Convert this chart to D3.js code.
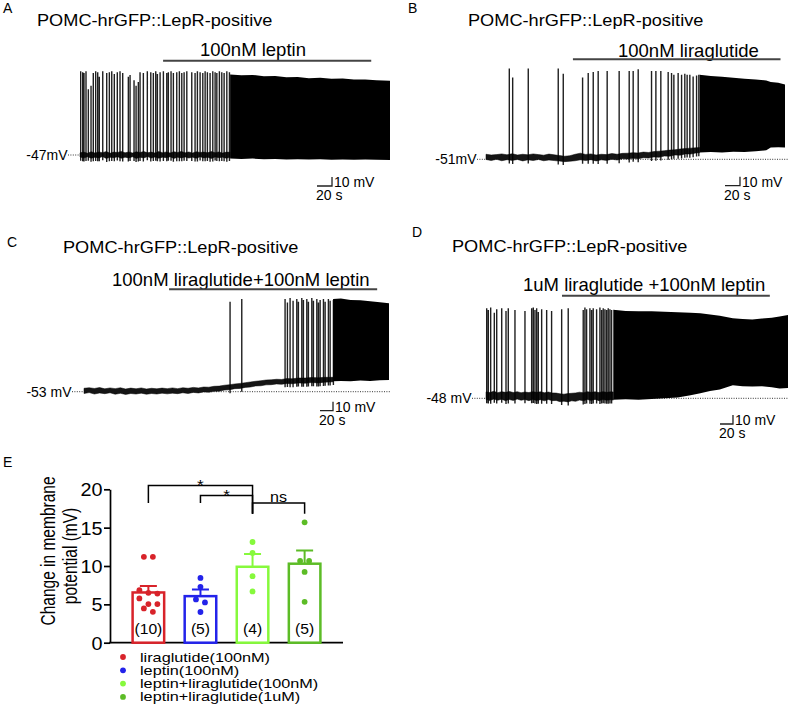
<!DOCTYPE html>
<meta charset="utf-8">
<style>
    body {
        margin: 0;
        background: #fff;
    }

    svg {
        font-family: "Liberation Sans", Arial, sans-serif;
    }

    .axis path,
    .axis line {
        fill: none;
        stroke: black;
        stroke-width: 1.7;
    }
</style>
<body>
<script src="https://d3js.org/d3.v7.min.js"></script>
<script>
    // ---- current-clamp traces ----
    // spikes: [time (s), peak (mV)]; baseline band: [time, low mV, high mV];
    // dense firing (solid black in the figure): [time, low mV, high mV]
    const panelLetters = ["A", "B", "C", "D"];
    const cellTitle = "POMC-hrGFP::LepR-positive";
    const drugLabels = ["100nM leptin", "100nM liraglutide", "100nM liraglutide+100nM leptin", "1uM liraglutide +100nM leptin"];
    const drugOn = [110.7, 116, 130.8, 117];
    const drugOff = [388, 393, 450.8, 437];
    const durations = [413, 399, 469, 465];
    const restMV = [-47, -51, -53, -48];
    const restLabels = ["-47mV", "-51mV", "-53 mV", "-48 mV"];
    const scaleBarSec = 20;
    const scaleBarMV = 10;

    const spikesA = [[0.9,46],[3.6,45],[5.3,44],[8,46],[11.1,26],[14.7,30],[17.7,44],[20.9,46],[23.6,45],[25.7,40],
        [30.3,46],[35.6,44],[39.1,45],[42.3,46],[45.7,43],[49.7,45],[53.3,46],[56.9,44],[64.4,40],[66.7,42],
        [72,36],[74.7,30],[77.7,34],[80,45],[84.4,44],[89.7,46],[94.3,45],[97.7,44],[100.9,46],[103.1,43],
        [106.7,45],[111.1,46],[115.6,44],[117.7,45],[121.3,46],[124.4,44],[128.9,45],[132.4,46],[135.6,44],[138.7,45],
        [142.3,46],[148.9,45],[153.3,44],[156.4,46],[160,45],[163.6,44],[166.7,46],[169.7,45],[173.3,44],[176.9,46],
        [180,45],[182.3,44],[185.7,46],[188.9,45],[192,44],[195.6,46],[199.1,45]];
    const baseA = [[0,-49.2,-44.6],[5,-50.4,-43.8],[10,-49,-45],[15,-50.6,-43.4],[20,-49.4,-44.8],[25,-50.2,-43.6],
        [30,-48.8,-44.4],[35,-50.8,-43.2],[40,-49.6,-45],[45,-50,-43.8],[50,-49,-44.2],[55,-50.6,-43],[60,-49.4,-44.6],
        [65,-50.2,-43.6],[70,-49,-44.8],[75,-50.8,-43.4],[80,-49.6,-44.2],[85,-50.2,-43.2],[90,-48.8,-44.6],
        [95,-50.4,-43.8],[100,-49.2,-44.8],[105,-50.6,-43.2],[110,-49.4,-44.4],[115,-50,-43.6],[120,-49,-44.8],
        [125,-50.8,-43.4],[130,-49.6,-44.2],[135,-50.2,-43],[140,-49.2,-44.6],[145,-50.4,-43.6],[150,-49.4,-44.8],
        [155,-50.6,-43.4],[160,-49,-44.2],[165,-50.2,-43.8],[170,-49.6,-44.6],[175,-50.8,-43.2],[180,-49.2,-44.4],
        [185,-50,-43.6],[190,-49.4,-44.8],[195,-50.6,-43.8],[200,-49.6,-44]];
    const denseA = [[200,-51,42.5],[215,-51.5,41.5],[230,-51,42],[245,-51.8,40.6],[260,-51.5,40.8],[275,-52,39.5],
        [290,-51.6,39.8],[305,-52,38.4],[320,-51.8,38.8],[335,-52.2,37.6],[350,-52,37.9],[365,-52.4,36.8],
        [380,-52.1,37],[395,-52.4,36],[413,-52.5,35.6]];

    const spikesB = [[31.1,50],[35.6,40],[56.4,50],[96.4,50],[103.1,44],[128.9,40],[136.4,45],[143.1,46],[149.7,47],
        [161.7,47],[177.7,47],[191.1,47],[196.4,47],[203.1,49],[220.9,47],[226.7,47],[233.3,47],[243.1,46],
        [247.6,45],[250.7,43],[256.4,45],[261,43],[265.3,44],[268.4,43],[272,43],[276.4,41],[281,42],[284,43]];
    const baseB = [[0,-51.2,-45.4],[7,-52.4,-46.2],[14,-51,-45.8],[21,-52.6,-45],[28,-51.4,-46],[35,-52.2,-44.8],
        [42,-51.2,-46.2],[49,-52.8,-45.4],[56,-51.6,-46],[63,-52.4,-45],[70,-51.2,-45.8],[77,-52.6,-46.4],
        [84,-51.8,-45.2],[91,-52.4,-46],[98,-53,-46.8],[105,-53.6,-47.6],[112,-53.2,-47],[119,-52.6,-45.4],
        [126,-51.6,-44.2],[133,-52.4,-45.6],[140,-51.4,-45],[147,-52.8,-46.2],[154,-51.6,-45.4],[161,-52.2,-45.8],
        [168,-51,-44.6],[175,-51.8,-45.4],[182,-50.4,-44.4],[189,-50.8,-44.2],[196,-49.8,-43.6],[203,-50.4,-44],
        [210,-49.2,-43],[217,-49.6,-43.4],[224,-48.4,-42.4],[231,-48.8,-42],[238,-47.4,-41.4],[245,-47.6,-40.8],
        [252,-46.2,-40.4],[259,-46.4,-39.6],[266,-45,-39],[273,-45.2,-38.6],[280,-44,-38.2],[285,-43.6,-38]];
    const denseB = [[285,-43.5,43],[300,-43,41.5],[315,-43.4,40.8],[330,-42.6,39.5],[345,-43,38.6],[360,-42,37.8],
        [374,-41,36.5],[380,-38,35],[390,-37.5,34],[399,-38,32]];

    const spikesC = [[224.6,47],[242.6,50],[309.2,50],[312.8,46],[316.9,51],[321.5,48],[327.2,50],[329.7,47],
        [334.9,51],[337.4,49],[342.6,50],[345.1,47],[350.3,51],[352.8,48],[358,50],[360.5,46],[363.1,49],
        [368.2,50],[370.8,47],[375.8,50],[378.5,48],[383.5,49]];
    const baseC = [[0,-55,-49.2],[8,-54,-48.6],[16,-55.6,-49.4],[24,-54.4,-48.4],[32,-55.2,-49.8],[40,-54.2,-48.8],
        [48,-55.8,-49.6],[56,-54.8,-48.6],[64,-56,-50],[72,-55,-49],[80,-55.6,-49.8],[88,-54.6,-48.8],[96,-55.8,-50],
        [104,-55,-49.2],[112,-55.6,-49.8],[120,-54.6,-49],[128,-55.4,-49.6],[136,-54.6,-48.8],[144,-55.2,-49.6],
        [152,-54.2,-48.6],[160,-55,-49.2],[168,-53.8,-48.2],[176,-54.4,-48.8],[184,-53.2,-47.8],[192,-53.6,-48],
        [200,-52.6,-47],[208,-52.4,-46.8],[216,-51.2,-45.8],[224,-50.8,-45.2],[232,-49.6,-44.4],[240,-49.4,-43.8],
        [248,-48.2,-43],[256,-47.8,-42.2],[264,-46.6,-41.4],[272,-46.4,-40.8],[280,-45.4,-40],[288,-45.2,-39.8],
        [296,-44.4,-39.2],[304,-44.8,-39.4],[312,-43.8,-38.4],[320,-44.2,-38.6],[330,-43.2,-37.8],[340,-43.6,-37.8],
        [350,-42.8,-37.2],[360,-43.2,-37.6],[370,-42.4,-37],[383,-42,-37]];
    const denseC = [[383,-41.5,50],[395,-41,50.5],[410,-41.5,49],[425,-40.6,48.5],[440,-41,47.5],
        [455,-40.2,46.5],[469,-40,45.2]];

    const spikesD = [[1.1,52],[3.5,50],[7.2,53],[12.8,47],[16.5,51],[24.2,52],[30.8,49],[34.3,52],[44.6,50],[60,49],
        [70.3,52],[72.8,53],[75.4,50],[78,52],[80.5,48],[85.7,51],[93.4,50],[101,49],[116.5,51],[126.6,52],
        [149.7,50],[152.3,53],[154.9,51],[160,52],[162.6,50],[165.1,52],[170.3,51],[175.4,53],[178,50],
        [180.5,52],[183.1,51],[185.7,50],[188.2,52],[190.8,51],[193.4,50]];
    const baseD = [[0,-49.2,-40.8],[6,-50.4,-41.6],[12,-48.8,-40.2],[18,-50.2,-41.8],[24,-49,-40.6],[30,-50.6,-41.4],
        [36,-49.4,-40.4],[42,-50.4,-41.6],[48,-48.8,-40.6],[54,-50.2,-41.8],[60,-49.4,-41],[66,-50.6,-41.6],
        [72,-49.2,-40.6],[78,-50.4,-41.4],[84,-49.6,-40.8],[90,-50.8,-41.8],[96,-49.4,-41],[102,-50.6,-42],
        [108,-50.4,-42.2],[114,-51.8,-43],[120,-51.2,-43.4],[126,-52,-42.8],[132,-50.8,-42.4],[138,-51.4,-42],
        [144,-50,-41.2],[150,-50.8,-41.8],[156,-49.4,-40.6],[162,-50.4,-41.4],[168,-49.2,-40.8],[174,-50.6,-41.6],
        [180,-49.4,-40.6],[186,-50.2,-41.4],[192,-49.6,-40.8],[196,-50,-41]];
    const denseD = [[196,-49.5,50.5],[215,-49,49],[235,-49.5,48.6],[255,-48.8,48.8],[275,-48,48.2],[295,-47,47.6],
        [315,-44.5,47],[330,-42.4,46.4],[345,-40,45],[360,-38.2,43.6],[380,-33.5,41],[395,-34.5,40.2],
        [410,-35,39.6],[425,-34.6,40.6],[440,-35.6,41.6],[452,-37,42.8],[465,-36.6,44.6]];

    // ---- panel E: change in membrane potential ----
    const groups = ["liraglutide(100nM)", "leptin(100nM)", "leptin+liraglutide(100nM)", "leptin+liraglutide(1uM)"];
    const groupColors = ["#d8232a", "#2323ea", "#86f93c", "#5cbc26"];
    const means = [6.55, 6.07, 9.9, 10.3];
    const sems = [0.85, 0.87, 1.67, 1.73];
    const nLabels = ["(10)", "(5)", "(4)", "(5)"];
    const pointsLira = [11.2, 11.2, 6.85, 6.5, 6.4, 5.77, 5.03, 5.03, 4.47, 4.03];
    const pointsLeptin = [8.45, 7.28, 5.64, 5.25, 4.0];
    const pointsCombo100 = [13.13, 11.7, 8.67, 6.68];
    const pointsCombo1u = [15.7, 10.66, 10.66, 9.23, 5.33];
    const yTicks = [0, 5, 10, 15, 20];
    // [group a, group b, label, top, end of a-leg, end of b-leg]
    const comparisons = [[0, 2, "*", 20.5, 18.2, 16.8], [1, 2, "*", 19.2, 18.2, 16.8], [2, 3, "ns", 18.2, 16.8, 16.8]];

    const svg = d3.select("body").append("svg")
        .attr("width", 789)
        .attr("height", 721);

    // the source figure's lettering is a little wider than Arial
    function widen(sel, x, y, sx, extra) {
        return sel.attr("transform", "translate(" + x + "," + y + ") scale(" + sx + ",1)" + (extra || ""));
    }

    // layout of the four trace panels (pixels)
    const panels = [
        {lx: 3, ly: 13, tx: 37, ty: 26, dx: 200, dy: 56, barY: 60.7, x0: 80, x1: 390, yRest: 155, dot0: 68, dot1: 390, sbX: 317, sbY: 186,
            spikes: spikesA, base: baseA, dense: denseA},
        {lx: 408, ly: 13, tx: 468, ty: 26, dx: 618, dy: 56.5, barY: 59.3, x0: 486, x1: 785, yRest: 159.3, dot0: 477, dot1: 788, sbX: 725, sbY: 185.7,
            spikes: spikesB, base: baseB, dense: denseB},
        {lx: 7, ly: 246.7, tx: 63, ty: 253.3, dx: 112, dy: 286, barY: 289.3, x0: 84, x1: 389, yRest: 391.7, dot0: 72, dot1: 390, sbX: 320, sbY: 410.7,
            spikes: spikesC, base: baseC, dense: denseC},
        {lx: 412, ly: 236.7, tx: 452, ty: 252.3, dx: 523, dy: 291, barY: 295.7, x0: 486, x1: 788, yRest: 398.3, dot0: 472, dot1: 788, sbX: 720, sbY: 424,
            spikes: spikesD, base: baseD, dense: denseD}
    ];

    function bandLow(band, t) {
        const i = d3.bisector(d => d[0]).left(band, t);
        if (i <= 0) return band[0][1];
        if (i >= band.length) return band[band.length - 1][1];
        const a = band[i - 1], b = band[i];
        return a[1] + (t - a[0]) / (b[0] - a[0]) * (b[1] - a[1]);
    }

    panels.forEach((p, i) => {
        const g = svg.append("g").attr("class", "trace-panel");

        const x = d3.scaleLinear().domain([0, durations[i]]).range([p.x0, p.x1]);
        const y = d3.scaleLinear().domain([restMV[i], restMV[i] + 100]).range([p.yRest, p.yRest - 90]);

        g.append("text")
            .attr("x", p.lx).attr("y", p.ly)
            .attr("font-size", 14)
            .text(panelLetters[i]);

        widen(g.append("text"), p.tx, p.ty, 1.07)
            .attr("font-size", 17)
            .text(cellTitle);

        g.append("text")
            .attr("x", p.dx).attr("y", p.dy)
            .attr("font-size", 18.5)
            .text(drugLabels[i]);

        g.append("line")
            .attr("x1", x(drugOn[i])).attr("x2", x(drugOff[i]))
            .attr("y1", p.barY).attr("y2", p.barY)
            .attr("stroke", "#444").attr("stroke-width", 2);

        // resting potential reference
        g.append("line")
            .attr("x1", p.dot0).attr("x2", p.dot1)
            .attr("y1", y(restMV[i])).attr("y2", y(restMV[i]))
            .attr("stroke", "#333").attr("stroke-width", 1)
            .attr("stroke-dasharray", "1,1.4");

        g.append("text")
            .attr("x", p.dot0 - 0.5).attr("y", y(restMV[i]) + 5)
            .attr("text-anchor", "end")
            .attr("font-size", 14)
            .text(restLabels[i]);

        // noisy baseline
        g.append("path")
            .datum(p.base)
            .attr("d", d3.area().x(d => x(d[0])).y0(d => y(d[1])).y1(d => y(d[2])))
            .attr("fill", "#151515")
            .attr("stroke", "#000")
            .attr("stroke-width", 0.5);

        // single action potentials
        g.append("path")
            .attr("d", p.spikes.map(d => {
                const lo = bandLow(p.base.concat(p.dense), d[0]) - 4;
                return "M" + x(d[0]) + "," + y(lo) + "L" + x(d[0]) + "," + y(d[1]);
            }).join(""))
            .attr("stroke", "#000")
            .attr("stroke-width", 1.4)
            .attr("stroke-opacity", 0.88)
            .attr("fill", "none");

        // high-frequency firing
        g.append("path")
            .datum(p.dense)
            .attr("d", d3.area().x(d => x(d[0])).y0(d => y(d[1])).y1(d => y(d[2])))
            .attr("fill", "#000");

        // scale bar
        const sbW = x(scaleBarSec) - x(0);
        const sbH = y(restMV[i]) - y(restMV[i] + scaleBarMV);
        g.append("path")
            .attr("d", "M" + p.sbX + "," + p.sbY + "h" + sbW + "v" + (-sbH))
            .attr("fill", "none")
            .attr("stroke", "#222")
            .attr("stroke-width", 1.3);
        g.append("text")
            .attr("x", p.sbX + sbW + 2).attr("y", p.sbY + 1)
            .attr("font-size", 14)
            .text(scaleBarMV + " mV");
        g.append("text")
            .attr("x", p.sbX - 1).attr("y", p.sbY + 14)
            .attr("font-size", 14)
            .text(scaleBarSec + " s");
    });

    // ---------------- panel E ----------------
    const eg = svg.append("g").attr("class", "bars");
    const yE = d3.scaleLinear().domain([0, 20]).range([642.7, 489.3]);
    const xE = d3.scaleBand().domain(d3.range(groups.length)).range([110, 343])
        .paddingInner(0.346).paddingOuter(0.41);
    const cx = i => xE(i) + xE.bandwidth() / 2;

    eg.append("text").attr("x", 3).attr("y", 467).attr("font-size", 14).text("E");

    eg.append("g")
        .attr("class", "axis")
        .attr("transform", "translate(110,0)")
        .call(d3.axisLeft(yE).tickValues(yTicks).tickSize(6).tickSizeOuter(0))
        .attr("font-family", null)
        .attr("font-size", null)
        .call(a => a.selectAll("text")
            .attr("x", null)
            .attr("dy", "0.36em")
            .attr("transform", "translate(-7.5,0) scale(1.1,1)")
            .attr("font-size", 18)
            .attr("fill", "#000"));

    eg.append("line")
        .attr("x1", 109.2).attr("x2", 343)
        .attr("y1", yE(0)).attr("y2", yE(0))
        .attr("stroke", "#000").attr("stroke-width", 1.7);

    const ylab = eg.append("g")
        .attr("font-size", 15.5)
        .attr("text-anchor", "middle");
    widen(ylab.append("text"), 54.5, 551, 1.36, " rotate(-90)").text("Change in membrane");
    widen(ylab.append("text"), 77, 556, 1.36, " rotate(-90)").text("potential (mV)");

    eg.selectAll(".bar")
        .data(means)
        .enter().append("rect")
        .attr("class", "bar")
        .attr("x", (d, i) => xE(i) + 1.25)
        .attr("width", xE.bandwidth() - 2.5)
        .attr("y", d => yE(d))
        .attr("height", d => yE(0) - yE(d))
        .attr("fill", "#fff")
        .attr("stroke", (d, i) => groupColors[i])
        .attr("stroke-width", 2.5);

    eg.selectAll(".err")
        .data(means)
        .enter().append("path")
        .attr("class", "err")
        .attr("d", (d, i) => "M" + cx(i) + "," + yE(d) + "V" + yE(d + sems[i]) +
            "M" + (cx(i) - 8.5) + "," + yE(d + sems[i]) + "H" + (cx(i) + 8.5))
        .attr("fill", "none")
        .attr("stroke", (d, i) => groupColors[i])
        .attr("stroke-width", 2);

    // scatter points, spread sideways when they share a row
    const r = 2.9;
    [pointsLira, pointsLeptin, pointsCombo100, pointsCombo1u].forEach((pts, gi) => {
        const sorted = pts.slice().sort((a, b) => b - a);
        const rows = [];
        sorted.forEach(v => {
            const last = rows[rows.length - 1];
            if (last && yE(v) - yE(last[0]) < 2 * r) last.push(v);
            else rows.push([v]);
        });
        const placed = [];
        rows.forEach(row => row.forEach((v, k) => placed.push([cx(gi) + (k - (row.length - 1) / 2) * 9, yE(v)])));
        eg.selectAll(".pt" + gi)
            .data(placed)
            .enter().append("circle")
            .attr("cx", d => d[0])
            .attr("cy", d => d[1])
            .attr("r", r)
            .attr("fill", groupColors[gi]);
    });

    eg.selectAll(".nlab")
        .data(nLabels)
        .enter().append("text")
        .attr("transform", (d, i) => "translate(" + cx(i) + ",634) scale(1.12,1)")
        .attr("text-anchor", "middle")
        .attr("font-size", 14)
        .text(d => d);

    comparisons.forEach(c => {
        eg.append("path")
            .attr("d", "M" + cx(c[0]) + "," + yE(c[4]) + "V" + yE(c[3]) + "H" + cx(c[1]) + "V" + yE(c[5]))
            .attr("fill", "none")
            .attr("stroke", "#000")
            .attr("stroke-width", 1.5);
        widen(eg.append("text"), (cx(c[0]) + cx(c[1])) / 2, c[2] === "*" ? yE(c[3]) + 5 : yE(c[3]) - 1.5, 1.15)
            .attr("text-anchor", "middle")
            .attr("font-size", c[2] === "*" ? 15 : 14)
            .text(c[2]);
    });

    const legend = eg.selectAll(".legend")
        .data(groups)
        .enter().append("g")
        .attr("class", "legend")
        .attr("transform", (d, i) => "translate(123," + (657 + i * 13.3) + ")");
    legend.append("circle").attr("r", r).attr("fill", (d, i) => groupColors[i]);
    legend.append("text")
        .attr("transform", "translate(17,4.5) scale(1.3,1)")
        .attr("font-size", 12.5)
        .text(d => d);
</script>
</body>
